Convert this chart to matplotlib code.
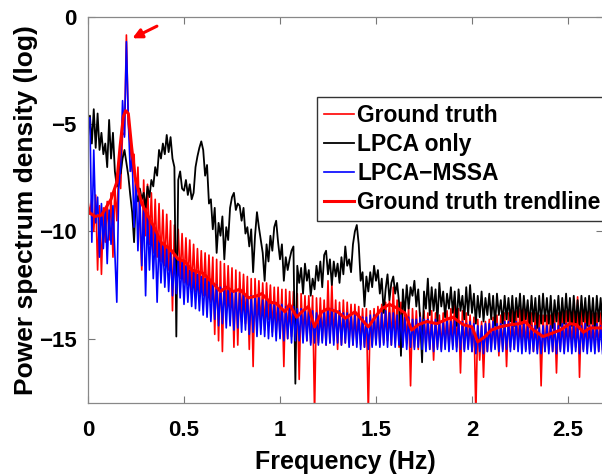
import matplotlib
import numpy as np

matplotlib.use("Agg")
import matplotlib.pyplot as plt

plt.rcParams["font.family"] = ["Liberation Sans", "DejaVu Sans"]
plt.rcParams["font.weight"] = "bold"

# frequency bins of the three spectra (Hz)
freq = np.round(np.arange(0, 269) * 0.01, 2)

# ground truth spectrum (log)
ground_truth = [
    -8.6, -9.2, -8.4, -10.0, -8.3, -11.8, -8.8, -12.0, -8.9, -10.5,
    -8.6, -10.4, -8.2, -11.2, -7.9, -9.5, -7.2, -8.0, -5.4, -5.5,
    -0.84, -5.0, -6.0, -7.2, -6.4, -8.8, -7.0, -9.6, -11.8, -7.6,
    -10.2, -7.8, -10.6, -8.2, -11.0, -8.5, -11.2, -8.7, -11.4, -9.0,
    -11.6, -9.2, -11.8, -9.5, -13.7, -9.7, -12.0, -9.9, -12.2, -10.1,
    -12.4, -10.3, -12.5, -10.4, -12.7, -10.6, -12.8, -10.8, -12.9, -10.9,
    -13.0, -11.0, -13.2, -11.1, -13.3, -11.2, -14.8, -11.3, -15.1, -11.4,
    -15.6, -11.5, -13.8, -11.6, -13.9, -11.7, -15.4, -11.8, -15.3, -11.9,
    -14.2, -12.0, -14.3, -12.1, -15.5, -12.2, -16.3, -12.2, -14.4, -12.3,
    -14.5, -12.4, -14.6, -12.4, -14.1, -12.5, -14.7, -12.6, -14.8, -12.6,
    -14.9, -12.7, -16.3, -12.7, -15.0, -12.8, -14.9, -12.8, -15.1, -12.9,
    -16.9, -12.9, -15.0, -13.0, -15.1, -13.0, -15.2, -13.0, -18.5, -13.1,
    -15.2, -13.1, -15.1, -13.2, -15.3, -12.3, -15.2, -12.4, -15.1, -13.2,
    -15.5, -13.3, -15.3, -13.2, -15.2, -13.3, -15.0, -13.4, -15.3, -13.4,
    -15.2, -13.5, -15.3, -13.6, -15.4, -13.6, -18.5, -13.7, -15.3, -13.6,
    -15.2, -13.5, -15.3, -13.4, -15.2, -13.3, -15.1, -13.2, -15.3, -12.6,
    -15.2, -13.2, -15.4, -13.3, -15.3, -13.4, -15.2, -13.5, -17.2, -13.6,
    -15.4, -13.7, -15.5, -13.8, -15.3, -13.7, -15.4, -13.8, -15.5, -13.7,
    -16.0, -13.8, -15.4, -13.9, -15.5, -13.8, -15.3, -13.7, -15.4, -13.6,
    -15.3, -13.2, -15.4, -13.6, -16.6, -13.7, -15.5, -13.8, -15.4, -13.9,
    -15.6, -14.0, -18.5, -14.1, -16.0, -14.2, -16.8, -14.2, -15.6, -14.1,
    -15.5, -14.0, -15.4, -13.9, -15.8, -13.9, -15.5, -13.8, -16.3, -13.8,
    -15.4, -13.7, -15.5, -13.7, -15.3, -13.6, -15.4, -13.6, -15.5, -13.7,
    -15.5, -13.8, -15.6, -13.8, -15.5, -13.9, -17.2, -13.9, -15.6, -13.9,
    -15.5, -13.9, -15.6, -13.8, -16.6, -13.8, -15.5, -13.7, -15.6, -13.7,
    -15.4, -13.6, -15.5, -13.6, -15.4, -13.05, -16.8, -13.6, -15.5, -13.7,
    -15.5, -13.7, -15.4, -13.8, -15.5, -13.8, -15.6, -13.8, -15.5,
]

# LPCA only spectrum (log)
lpca_only = [
    -5.6, -4.6, -5.9, -4.3, -6.1, -4.5, -6.2, -5.4, -6.4, -5.9,
    -7.0, -4.8, -6.6, -5.4, -7.2, -7.9, -6.8, -7.3, -6.6, -6.2,
    -6.8, -7.4, -8.3, -9.1, -10.5, -8.2, -8.6, -8.0, -8.5, -8.2,
    -8.9, -7.9, -8.4, -7.6, -7.9, -7.0, -7.4, -6.2, -6.6, -5.9,
    -6.4, -5.5, -6.3, -5.6, -6.6, -7.0, -14.9, -7.6, -7.2, -8.0,
    -8.1, -7.6, -8.3, -7.8, -8.5, -8.2, -7.0, -6.5, -6.1, -5.8,
    -6.2, -7.4, -6.9, -8.7, -8.5, -9.9, -8.9, -11.0, -9.6, -10.2,
    -9.3, -11.3, -9.8, -10.4, -8.9, -8.4, -8.2, -9.0, -8.7, -8.8,
    -9.5, -8.9, -10.1, -9.8, -10.7, -9.9, -11.9, -10.2, -9.1, -9.8,
    -10.4, -11.0, -12.3, -10.6, -11.4, -10.2, -10.9, -9.8, -9.5, -10.5,
    -11.3, -10.6, -12.3, -11.2, -11.8, -11.3, -10.9, -10.7, -17.1, -11.6,
    -12.4, -11.7, -12.9, -11.5, -12.3, -11.8, -13.0, -12.2, -12.7, -11.6,
    -12.3, -11.4, -12.6, -11.1, -10.9, -12.0, -11.3, -12.5, -11.4, -12.1,
    -11.5, -12.4, -11.2, -12.0, -10.7, -11.6, -11.3, -11.9, -10.6, -10.0,
    -9.7, -10.6, -12.3, -11.9, -13.5, -12.1, -12.8, -11.9, -12.6, -11.6,
    -12.3, -11.8, -12.9, -12.2, -13.8, -12.7, -12.0, -13.2, -12.4, -12.1,
    -12.9, -12.4, -13.3, -15.8, -12.7, -13.9, -12.5, -13.6, -12.6, -13.0,
    -12.3, -13.5, -12.7, -14.1, -16.1, -12.8, -13.6, -12.2, -13.9, -12.6,
    -13.7, -12.7, -14.2, -12.4, -13.5, -12.8, -14.0, -12.9, -13.6, -12.6,
    -13.8, -12.8, -14.4, -12.7, -13.7, -13.0, -14.1, -12.6, -13.9, -12.5,
    -13.8, -12.9, -14.3, -13.0, -14.0, -12.8, -14.2, -13.1, -13.9, -12.9,
    -14.1, -13.0, -14.4, -12.9, -13.9, -13.2, -14.3, -13.0, -14.1, -13.1,
    -14.2, -13.0, -14.4, -13.1, -14.0, -12.9, -14.3, -13.0, -14.1, -13.2,
    -14.4, -13.0, -14.2, -13.1, -14.5, -13.0, -14.3, -12.9, -14.2, -13.1,
    -14.3, -13.0, -14.5, -13.2, -14.2, -13.0, -14.4, -13.1, -14.3, -12.9,
    -14.2, -13.1, -14.4, -13.0, -14.3, -13.2, -14.4, -13.0, -14.2, -13.1,
    -14.4, -13.0, -14.3, -13.1, -14.5, -13.0, -14.2, -13.1, -14.3,
]

# LPCA-MSSA spectrum (log)
lpca_mssa = [
    -4.8, -4.7, -10.5, -6.2, -9.6, -8.4, -11.2, -8.7, -10.8, -8.9,
    -11.5, -9.0, -10.6, -8.8, -11.0, -13.3, -8.0, -7.0, -3.9, -5.6,
    -1.15, -4.8, -7.2, -6.5, -9.8, -7.6, -10.9, -8.3, -11.6, -8.9,
    -13.0, -9.2, -11.8, -9.6, -12.2, -10.0, -13.3, -10.3, -12.4, -10.6,
    -12.6, -10.8, -12.8, -11.0, -13.0, -11.2, -12.9, -11.3, -13.1, -11.4,
    -13.4, -11.6, -13.3, -11.8, -13.5, -11.9, -13.6, -12.0, -13.7, -12.1,
    -13.9, -12.2, -14.0, -12.3, -14.2, -12.4, -14.1, -12.5, -14.4, -12.6,
    -14.3, -12.6, -14.5, -12.7, -14.4, -12.8, -14.6, -12.8, -14.5, -12.9,
    -14.7, -12.9, -14.6, -13.0, -14.8, -13.0, -14.7, -13.1, -14.9, -13.1,
    -14.8, -13.2, -14.9, -13.2, -15.0, -13.3, -14.9, -13.3, -15.1, -13.4,
    -15.0, -13.4, -15.1, -13.5, -15.0, -13.5, -15.2, -13.5, -15.1, -13.6,
    -15.1, -13.6, -15.2, -13.6, -15.1, -13.7, -15.3, -13.7, -15.2, -13.8,
    -15.3, -13.8, -15.2, -13.7, -15.3, -13.7, -15.2, -13.6, -15.3, -13.7,
    -15.2, -13.7, -15.3, -13.8, -15.2, -13.8, -15.4, -13.9, -15.3, -13.9,
    -15.4, -13.9, -15.5, -14.0, -15.4, -14.0, -15.5, -13.9, -15.4, -13.9,
    -15.3, -13.8, -15.4, -13.8, -15.3, -13.7, -15.4, -13.8, -15.3, -13.8,
    -15.4, -13.9, -15.3, -13.9, -15.4, -14.0, -15.5, -14.0, -15.4, -14.1,
    -15.5, -14.1, -15.4, -14.0, -15.5, -14.1, -15.6, -14.1, -15.5, -14.2,
    -15.6, -14.1, -15.5, -14.2, -15.6, -14.2, -15.5, -14.1, -15.6, -14.2,
    -15.5, -14.1, -15.6, -14.2, -15.5, -14.2, -15.6, -14.3, -15.5, -14.2,
    -15.6, -14.3, -15.7, -14.4, -15.6, -14.4, -15.7, -14.3, -15.6, -14.3,
    -15.6, -14.2, -15.5, -14.3, -15.6, -14.3, -15.6, -14.2, -15.5, -14.2,
    -15.6, -14.3, -15.5, -14.2, -15.6, -14.3, -15.7, -14.3, -15.6, -14.4,
    -15.7, -14.4, -15.6, -14.4, -15.7, -14.5, -15.7, -14.4, -15.6, -14.4,
    -15.7, -14.4, -15.6, -14.3, -15.7, -14.4, -15.6, -14.3, -15.7, -14.3,
    -15.6, -14.3, -15.7, -14.4, -15.6, -14.4, -15.7, -14.4, -15.6, -14.3,
    -15.7, -14.4, -15.6, -14.4, -15.7, -14.3, -15.6, -14.4, -15.7,
]

# smoothed ground truth trendline
trend_freq = [
    0.0, 0.036, 0.07, 0.12, 0.15, 0.167, 0.184, 0.196, 0.21, 0.227,
    0.245, 0.28, 0.314, 0.35, 0.38, 0.436, 0.47, 0.505, 0.54, 0.6,
    0.65, 0.69, 0.72, 0.757, 0.79, 0.835, 0.88, 0.905, 0.948, 0.98,
    1.026, 1.05, 1.087, 1.113, 1.148, 1.18, 1.217, 1.25, 1.30, 1.34,
    1.39, 1.425, 1.46, 1.495, 1.53, 1.57, 1.616, 1.65, 1.686, 1.72,
    1.764, 1.816, 1.868, 1.9, 1.955, 2.0, 2.03, 2.068, 2.1, 2.146,
    2.2, 2.25, 2.276, 2.32, 2.37, 2.415, 2.46, 2.51, 2.545, 2.58,
    2.615, 2.68,
]
trend_value = [
    -9.08, -9.3, -9.24, -8.5, -7.7, -6.05, -4.65, -4.37, -4.5, -6.05,
    -7.45, -8.7, -9.3, -9.9, -10.5, -10.9, -11.3, -11.4, -11.8, -11.95,
    -12.4, -12.8, -12.6, -12.8, -12.7, -13.1, -13.0, -12.9, -13.3, -13.35,
    -13.75, -13.4, -14.0, -13.75, -13.5, -14.45, -13.75, -13.6, -13.75, -14.05,
    -13.75, -14.1, -14.45, -14.0, -13.6, -13.4, -13.6, -13.8, -14.6, -14.35,
    -14.2, -14.3, -14.1, -14.0, -14.35, -14.45, -15.15, -14.9, -14.6, -14.45,
    -14.35, -14.3, -14.2, -14.6, -14.9, -14.75, -14.6, -14.3, -14.35, -14.7,
    -14.5, -14.5,
]

x_ticks = [0, 0.5, 1, 1.5, 2, 2.5]
x_tick_labels = ["0", "0.5", "1", "1.5", "2", "2.5"]
y_ticks = [-15, -10, -5, 0]

fig = plt.figure(figsize=(6.02, 4.75), dpi=100)
ax = fig.add_axes([88 / 602, 72 / 475, 515 / 602, 386 / 475])

ax.plot(freq, ground_truth, color="#ff0000", linewidth=1.2, label="Ground truth")
ax.plot(freq, lpca_only, color="black", linewidth=1.3, label="LPCA only")
ax.plot(freq, lpca_mssa, color="#0000ff", linewidth=1.2, label="LPCA\u2212MSSA")
ax.plot(trend_freq, trend_value, color="#ff0000", linewidth=2.2,
        label="Ground truth trendline")

# arrow pointing at the dominant peak
ax.annotate("", xy=(0.218, -1.05), xytext=(0.372, -0.37),
            arrowprops=dict(arrowstyle="-|>", color="#ff0000", lw=2.2,
                            mutation_scale=14))

ax.set_xlim(0, 515 / 192)
ax.set_ylim(-18, 0)
ax.set_xticks(x_ticks, x_tick_labels)
ax.set_yticks(y_ticks)
ax.tick_params(direction="in", length=5, width=0.8, color="#777777",
               top=True, right=True, labelsize=16)
ax.tick_params(axis="x", pad=12.5)
ax.tick_params(axis="y", pad=8)
for spine in ax.spines.values():
    spine.set_color("#888888")
    spine.set_linewidth(0.9)
ax.spines["right"].set_visible(False)

ax.set_xlabel("Frequency (Hz)", fontsize=18, fontweight="bold", labelpad=6.5)
ax.set_ylabel("Power spectrum density (log)", fontsize=19, fontweight="bold",
              labelpad=1)

legend = ax.legend(loc="upper left", bbox_to_anchor=(317 / 602, 1 - 97 / 475),
                   bbox_transform=fig.transFigure, borderaxespad=0,
                   fancybox=False, framealpha=1, edgecolor="#333333",
                   fontsize=16.5, handlelength=1.3, handletextpad=0.15,
                   labelspacing=0.26, borderpad=0.3)
legend.get_frame().set_linewidth(1.0)
for text in legend.get_texts():
    text.set_fontweight("bold")

fig.savefig("out.png", dpi=100, facecolor="white")
